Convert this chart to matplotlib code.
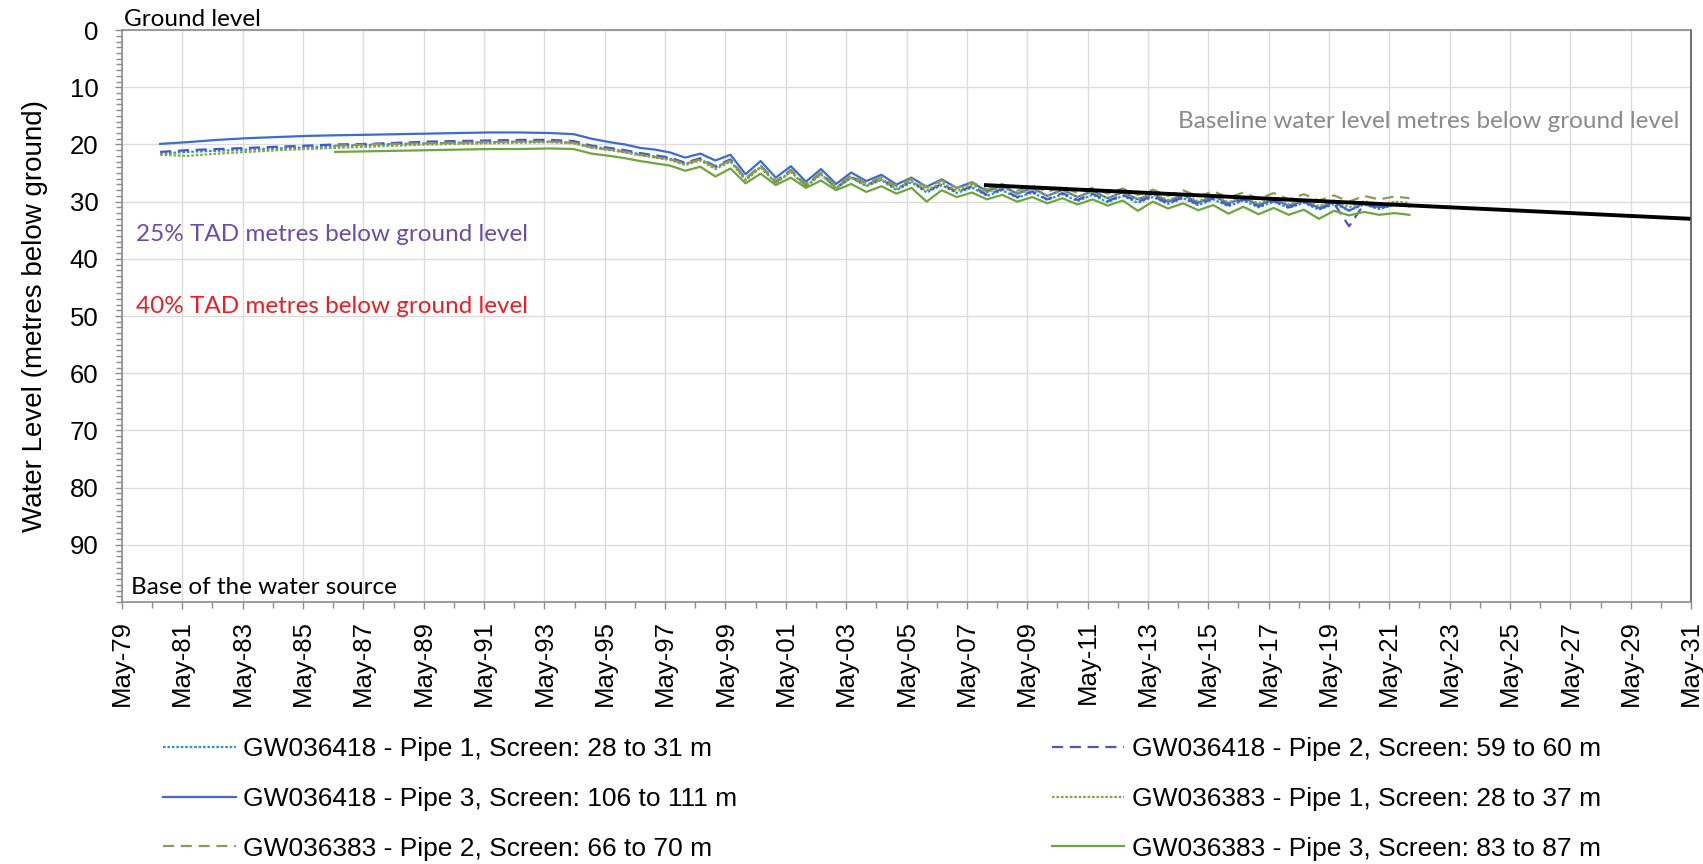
"""
Groundwater level hydrograph, GW036418 / GW036383
"""
import numpy as np
import matplotlib
matplotlib.use('Agg')
import matplotlib.pyplot as plt
from matplotlib.ticker import FixedLocator, MultipleLocator

# decimal years
dates = [1980.6, 1981.5, 1982.5, 1983.5, 1984.5, 1985.5, 1986.4, 1987.5, 1988.5, 1989.5,
         1990.5, 1991.5, 1992.5, 1993.5, 1994.3, 1994.9,
         1995.5, 1996.0, 1996.5, 1997.0, 1997.5, 1998.0, 1998.5, 1999.0, 1999.5,
         2000.0, 2000.5, 2001.0, 2001.5, 2002.0, 2002.5, 2003.0, 2003.5, 2004.0, 2004.5,
         2005.0, 2005.5, 2006.0, 2006.5, 2007.0, 2007.5, 2008.0, 2008.5, 2009.0, 2009.5,
         2010.0, 2010.5, 2011.0, 2011.5, 2012.0, 2012.5, 2013.0, 2013.5, 2014.0, 2014.5,
         2015.0, 2015.5, 2016.0, 2016.5, 2017.0, 2017.5, 2018.0, 2018.5, 2019.0, 2019.5,
         2020.0, 2020.5, 2021.0, 2021.5, 2022.0]

gw418_p1 = [21.6, 21.3, 21.1, 20.9, 20.7, 20.5, 20.3, 20.1, 19.9, 19.8, 19.7, 19.6, 19.5, 19.5, 19.7, 20.4,
            20.8, 21.2, 21.7, 22.1, 22.5, 23.4, 22.6, 24.0, 22.8,
            26.2, 23.9, 26.7, 24.7, 27.3, 25.2, 27.7, 25.8, 27.3, 26.2, 28.0, 26.6, 28.4, 27.1, 28.5, 27.5, 29.0, 28.0, 29.3, 28.4,
            29.7, 28.7, 29.9, 28.8, 30.1, 29.0, 30.2, 29.2, 30.4, 29.4, 30.6, 29.6, 30.8, 29.8, 31.0, 30.0, 31.1, 30.2, 31.4, 30.4,
            31.5, 30.5, 31.3, 30.6, 30.8]
gw418_p2 = [21.3, 21.0, 20.8, 20.6, 20.4, 20.2, 20.0, 19.9, 19.7, 19.5, 19.4, 19.3, 19.2, 19.2, 19.4, 20.2,
            20.6, 21.0, 21.5, 21.9, 22.3, 23.2, 22.4, 23.8, 22.6,
            26.0, 23.7, 26.6, 24.5, 27.2, 25.0, 27.6, 25.6, 27.1, 26.0, 27.8, 26.4, 28.2, 26.9, 28.3, 27.3, 28.8, 27.8, 29.2, 28.2,
            29.6, 28.5, 29.7, 28.6, 29.9, 28.8, 30.0, 29.0, 30.3, 29.2, 30.5, 29.4, 30.6, 29.6, 30.8, 29.9, 31.0, 30.0, 31.3, 30.3,
            34.3, 30.4, 31.2, 30.4, 30.6]
gw418_p3 = [19.9, 19.6, 19.2, 18.9, 18.7, 18.5, 18.4, 18.3, 18.2, 18.1, 18.0, 17.9, 17.9, 18.0, 18.2, 19.0,
            19.6, 20.0, 20.6, 20.9, 21.4, 22.3, 21.6, 22.8, 21.8,
            25.2, 22.9, 25.8, 23.8, 26.5, 24.3, 26.9, 24.9, 26.4, 25.3, 27.0, 25.8, 27.4, 26.1, 27.6, 26.6, 28.2, 27.2, 28.6, 27.6,
            29.0, 27.9, 29.2, 28.1, 29.4, 28.3, 29.6, 28.6, 30.0, 28.8, 30.2, 29.0, 30.3, 29.3, 30.6, 29.6, 30.7, 29.9, 31.1, 30.0,
            31.6, 30.2, 31.0, 30.3, 30.8]
gw383_p1 = [21.8, 22.0, 21.6, 21.3, 21.0, 20.8, 20.6, 20.4, 20.2, 20.0, 19.9, 19.8, 19.7, 19.6, 19.8, 20.6,
            21.0, 21.4, 21.9, 22.3, 22.7, 23.6, 22.8, 24.3, 23.0,
            26.3, 24.0, 26.8, 24.8, 27.3, 25.3, 27.6, 25.8, 27.2, 26.1, 27.8, 26.4, 28.0, 26.7, 28.1, 27.0, 28.4, 27.4, 28.7, 27.8,
            29.0, 28.0, 29.2, 28.2, 29.4, 28.4, 29.5, 28.6, 29.7, 28.8, 29.9, 29.0, 30.1, 29.2, 30.3, 29.4, 30.5, 29.6, 30.8, 29.8,
            31.0, 29.9, 30.6, 30.0, 30.2]
gw383_p2 = [np.nan] * 6 + [20.2, 20.0, 19.9, 19.8, 19.7, 19.6, 19.5, 19.5, 19.7, 20.5,
            20.9, 21.3, 21.8, 22.2, 22.6, 23.4, 22.6, 24.0, 22.8,
            25.9, 23.7, 26.4, 24.4, 26.9, 24.9, 27.2, 25.4, 26.8, 25.7, 27.3, 26.0, 27.5, 26.3, 27.6, 26.6, 27.9, 26.9, 28.1, 27.2,
            28.3, 27.4, 28.5, 27.6, 28.6, 27.7, 28.8, 27.9, 29.0, 28.0, 29.1, 28.2, 29.3, 28.4, 29.5, 28.5, 29.6, 28.7, 29.8, 28.9,
            30.0, 29.0, 29.6, 29.1, 29.4]
gw383_p3 = [np.nan] * 6 + [21.3, 21.2, 21.1, 21.0, 20.9, 20.8, 20.8, 20.7, 20.8, 21.6,
            22.0, 22.4, 22.9, 23.3, 23.7, 24.6, 23.9, 25.6, 24.2,
            26.8, 25.1, 27.1, 25.8, 27.6, 26.3, 28.0, 26.9, 28.3, 27.3, 28.6, 27.6, 30.0, 28.0, 29.2, 28.4, 29.6, 28.8, 30.0, 29.2,
            30.3, 29.4, 30.5, 29.6, 30.7, 29.8, 31.6, 30.0, 31.2, 30.3, 31.5, 30.6, 32.1, 30.9, 32.2, 31.1, 32.3, 31.4, 33.0, 31.6,
            32.4, 31.8, 32.3, 32.0, 32.3]

baseline_years = [2007.9, 2031.33]
baseline_level = [27.1, 33.0]

labels = ['GW036418 - Pipe 1, Screen: 28 to 31 m',
          'GW036418 - Pipe 2, Screen: 59 to 60 m',
          'GW036418 - Pipe 3, Screen: 106 to 111 m',
          'GW036383 - Pipe 1, Screen: 28 to 37 m',
          'GW036383 - Pipe 2, Screen: 66 to 70 m',
          'GW036383 - Pipe 3, Screen: 83 to 87 m']

tick_years = list(range(1979, 2032, 2))
tick_labels = ['May-%02d' % (y % 100) for y in tick_years]

ARIAL = 'Liberation Sans'
CAL = 'Lato'
GRAY = '#8c8c8c'

fig = plt.figure(figsize=(17.03, 8.64), dpi=100)
ax = fig.add_axes([0.0716, 0.3032, 0.9214, 0.6620])

series = [(gw418_p1, '#2a96c8', (0, (1.2, 0.8)), labels[0]),
          (gw418_p2, '#4b55c8', (0, (5, 3)), labels[1]),
          (gw418_p3, '#3b6bd4', '-', labels[2]),
          (gw383_p1, '#8ba445', (0, (1.2, 0.8)), labels[3]),
          (gw383_p2, '#8c9a58', (0, (5, 3)), labels[4]),
          (gw383_p3, '#6ea63c', '-', labels[5])]

lines = {}
for vals, col, ls, lab in series:
    l, = ax.plot(dates, vals, color=col, ls=ls, lw=1.6, label=lab)
    lines[lab] = l

ax.plot(baseline_years, baseline_level, color='black', lw=2.8, solid_capstyle='butt')

may = [y + 4 / 12.0 for y in tick_years]
ax.set_xlim(1979 + 4 / 12.0, 2031 + 4 / 12.0)
ax.set_ylim(100, 0)
ax.xaxis.set_major_locator(FixedLocator(may))
ax.xaxis.set_minor_locator(FixedLocator([y + 4 / 12.0 for y in range(1979, 2032)]))
ax.set_xticklabels(tick_labels, rotation=90, fontsize=18.5, family=ARIAL)
ax.set_yticks(range(0, 100, 10))
ax.set_yticklabels([str(v) for v in range(0, 100, 10)], fontsize=18.5, family=ARIAL)
ax.yaxis.set_minor_locator(MultipleLocator(1))
ax.tick_params(axis='both', which='both', direction='out', color=GRAY, width=1)
ax.tick_params(axis='y', which='major', length=5, pad=12)
ax.tick_params(axis='y', which='minor', length=4)
ax.tick_params(axis='x', which='major', length=5, pad=8)
ax.tick_params(axis='x', which='minor', length=4)

ax.grid(True, which='major', color='#dcdcdc', lw=1)
ax.set_axisbelow(True)
for s in ['left', 'bottom', 'top']:
    ax.spines[s].set_color(GRAY)
ax.spines['right'].set_color('#555555')
for s in ax.spines.values():
    s.set_linewidth(1.2)

ax.set_ylabel('Water Level (metres below ground)', fontsize=20, family=ARIAL)
ax.yaxis.set_label_coords(-0.047, 0.5)

ax.text(0.001, 1.0, 'Ground level', transform=ax.transAxes, ha='left', va='bottom',
        fontsize=17.5, family=CAL, color='black')
ax.text(0.009, 0.643, '25% TAD metres below ground level', transform=ax.transAxes,
        ha='left', va='center', fontsize=17.5, family=CAL, color='#6a4ea6')
ax.text(0.009, 0.5175, '40% TAD metres below ground level', transform=ax.transAxes,
        ha='left', va='center', fontsize=17.5, family=CAL, color='#f01c24')
ax.text(0.9924, 0.841, 'Baseline water level metres below ground level', transform=ax.transAxes,
        ha='right', va='center', fontsize=17.5, family=CAL, color='#8a8a8a')
ax.text(0.0057, 0.026, 'Base of the water source', transform=ax.transAxes,
        ha='left', va='center', fontsize=17.5, family=CAL, color='black')

# legend filled column by column
order = [labels[0], labels[2], labels[4], labels[1], labels[3], labels[5]]
leg = fig.legend([lines[k] for k in order], order, ncol=2, loc='upper left',
                 bbox_to_anchor=(163 / 1703.0, 1 - 737 / 864.0), frameon=False,
                 prop={'family': ARIAL, 'size': 19.0}, handlelength=2.75,
                 handletextpad=0.3, columnspacing=11.9, labelspacing=0.98,
                 borderpad=0, borderaxespad=0)

fig.savefig('out.png', dpi=100, facecolor='white')
